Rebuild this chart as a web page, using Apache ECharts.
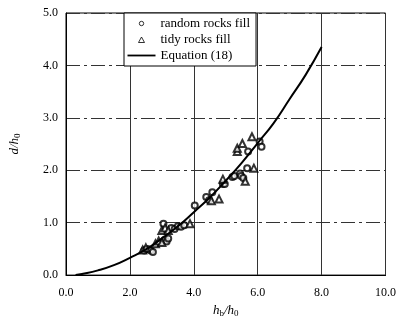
<!DOCTYPE html>
<html>
<head>
<meta charset="utf-8">
<script src="https://cdn.jsdelivr.net/npm/echarts@6/dist/echarts.min.js"></script>
<style>
  html, body { margin: 0; padding: 0; background: #fff; }
  #chart { width: 399px; height: 323px; }
</style>
</head>
<body>
<div id="chart"></div>
<script>
// random rocks fill (circles)
const randomRocks = [
  [2.45, 0.47], [2.55, 0.50], [2.65, 0.47], [2.72, 0.44], [3.05, 0.98],
  [3.10, 0.68], [3.15, 0.64], [3.20, 0.70], [3.30, 0.90], [3.40, 0.88],
  [3.50, 0.93], [3.60, 0.92], [3.70, 0.95], [4.03, 1.33], [4.39, 1.49],
  [4.48, 1.43], [4.58, 1.58], [4.91, 1.74], [4.97, 1.74], [5.21, 1.87],
  [5.27, 1.89], [5.45, 1.94], [5.48, 1.89], [5.55, 1.85], [5.67, 2.04],
  [5.70, 2.36], [6.06, 2.55], [6.12, 2.45]
];

// tidy rocks fill (triangles)
const tidyRocks = [
  [2.40, 0.48], [2.50, 0.52], [2.80, 0.60], [2.90, 0.65], [3.00, 0.62],
  [3.00, 0.85], [3.10, 0.90], [3.20, 0.85], [3.88, 0.98], [4.55, 1.42],
  [4.79, 1.45], [4.91, 1.83], [5.36, 2.36], [5.36, 2.42], [5.52, 2.51],
  [5.61, 1.79], [5.82, 2.64], [5.88, 2.04]
];

// Equation (18)
const eqX = [0.3, 0.5, 1.0, 1.5, 2.0, 2.5, 3.0, 3.5, 4.0, 4.5, 5.0, 5.5, 6.0, 6.5, 7.0, 7.5, 8.0];
const eqY = [0.00, 0.02, 0.09, 0.19, 0.33, 0.49, 0.70, 0.93, 1.20, 1.48, 1.80, 2.14, 2.52, 2.90, 3.36, 3.82, 4.35];

const seriesNames = ["random rocks fill", "tidy rocks fill", "Equation (18)"];

const font = "Liberation Serif";

// legend icons drawn in a 28x6 box so they are not stretched
const triIcon = "path://M0,0M28,6M11,6L14,0.5L17,6Z";
const circIcon = "path://M0,0M28,6M16.2,3A2.2,2.2,0,1,1,11.8,3A2.2,2.2,0,1,1,16.2,3Z";
const lineIcon = "path://M0,0M28,6M0,2.1L28,2.1L28,3.9L0,3.9Z";

const chart = echarts.init(document.getElementById("chart"));

const subRich = {
  i: { fontFamily: font, fontStyle: "italic", fontSize: 13, color: "#000" },
  s: { fontFamily: font, fontSize: 9, color: "#000", verticalAlign: "bottom", padding: [6, 0, 0, 0] },
};

const hollow = { color: "#fff", borderColor: "#000", borderWidth: 1 };

const option = {
  animation: false,
  backgroundColor: "#fff",
  textStyle: { fontFamily: font, color: "#000" },
  grid: {
    left: 59,
    right: 10,
    top: 13,
    bottom: 45,
    show: true,
    borderColor: "#000",
    borderWidth: 1,
  },
  legend: {
    data: [
      { name: seriesNames[0], icon: circIcon, itemStyle: hollow },
      { name: seriesNames[1], icon: triIcon, itemStyle: hollow },
      {
        name: seriesNames[2],
        icon: lineIcon,
        itemStyle: { color: "#000", borderWidth: 0 },
      },
    ],
    orient: "vertical",
    left: 124,
    top: 13,
    itemWidth: 28,
    itemHeight: 6,
    itemGap: 3,
    padding: [4, 6, 4, 3],
    borderColor: "#000",
    borderWidth: 1,
    borderRadius: 0,
    backgroundColor: "#fff",
    textStyle: { fontFamily: font, fontSize: 13, color: "#000" },
  },
  xAxis: {
    type: "value",
    min: 0,
    max: 10,
    interval: 2,
    name: "{i|h}{s|b}{i|/h}{s|0}",
    nameLocation: "middle",
    nameGap: 23,
    nameTextStyle: { rich: subRich },
    axisLine: { show: true, lineStyle: { color: "#000", width: 1 } },
    axisTick: { show: false },
    axisLabel: {
      margin: 12,
      fontFamily: font,
      fontSize: 12,
      color: "#000",
      formatter: (v) => v.toFixed(1),
    },
    splitLine: { show: true, lineStyle: { color: "#333", width: 1, type: "solid" } },
  },
  yAxis: {
    type: "value",
    min: 0,
    max: 5,
    interval: 1,
    name: "{i|d/h}{s|0}",
    nameLocation: "middle",
    nameGap: 44,
    nameRotate: 90,
    nameTextStyle: { rich: subRich },
    axisLine: { show: true, lineStyle: { color: "#000", width: 1 } },
    axisTick: { show: false },
    axisLabel: {
      margin: 8,
      fontFamily: font,
      fontSize: 12,
      color: "#000",
      formatter: (v) => v.toFixed(1),
    },
    splitLine: { show: true, lineStyle: { color: "#333", width: 1, type: [14, 4, 3, 4] } },
  },
  series: [
    {
      name: seriesNames[0],
      type: "scatter",
      symbol: "emptyCircle",
      symbolSize: 6,
      itemStyle: { color: "#000", borderColor: "#000", borderWidth: 1 },
      data: randomRocks,
      z: 3,
    },
    {
      name: seriesNames[1],
      type: "scatter",
      symbol: "emptyTriangle",
      symbolSize: 7,
      itemStyle: { color: "#000", borderColor: "#000", borderWidth: 1 },
      data: tidyRocks,
      z: 3,
    },
    {
      name: seriesNames[2],
      type: "line",
      symbol: "none",
      smooth: true,
      lineStyle: { color: "#000", width: 2 },
      itemStyle: { color: "#000" },
      data: eqX.map((x, i) => [x, eqY[i]]),
      z: 4,
    },
  ],
};

chart.setOption(option);
</script>
</body>
</html>
